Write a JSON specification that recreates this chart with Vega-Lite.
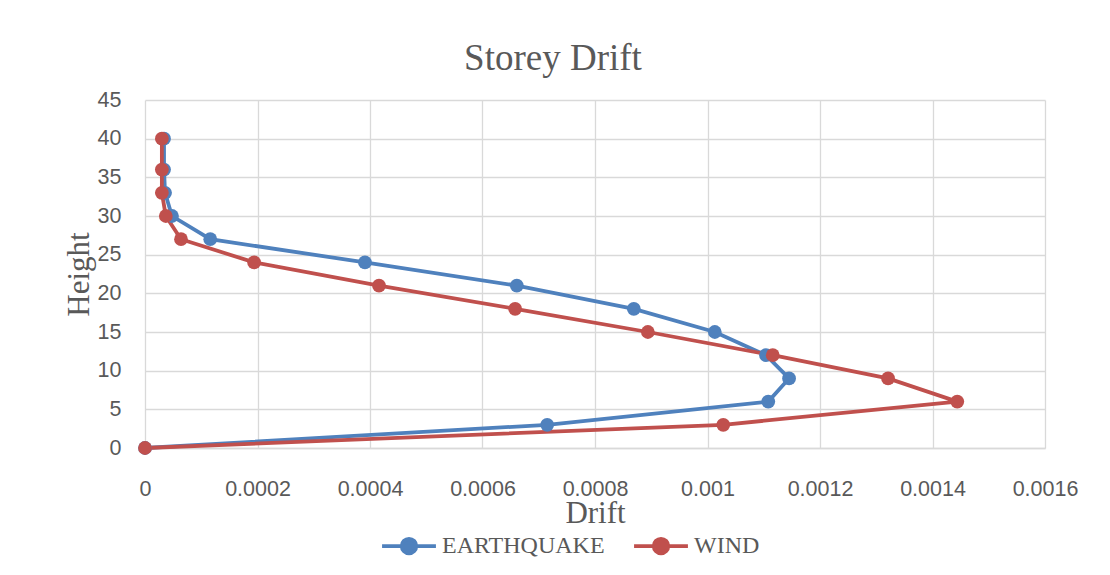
{
  "$schema": "https://vega.github.io/schema/vega-lite/v6.json",
  "width": 900,
  "height": 348,
  "autosize": {"type": "none"},
  "padding": {"left": 145, "top": 100, "right": 65, "bottom": 127},
  "background": "white",
  "title": {
    "text": "Storey Drift",
    "font": "Liberation Serif",
    "fontSize": 37,
    "fontWeight": "normal",
    "color": "#595959",
    "anchor": "middle",
    "dx": -42,
    "offset": 11
  },
  "data": {
    "values": [
      {"series": "EARTHQUAKE", "height": 0, "drift": 0},
      {"series": "EARTHQUAKE", "height": 3, "drift": 0.000715},
      {"series": "EARTHQUAKE", "height": 6, "drift": 0.001108},
      {"series": "EARTHQUAKE", "height": 9, "drift": 0.001145},
      {"series": "EARTHQUAKE", "height": 12, "drift": 0.001104},
      {"series": "EARTHQUAKE", "height": 15, "drift": 0.001013},
      {"series": "EARTHQUAKE", "height": 18, "drift": 0.000869},
      {"series": "EARTHQUAKE", "height": 21, "drift": 0.000661},
      {"series": "EARTHQUAKE", "height": 24, "drift": 0.000391},
      {"series": "EARTHQUAKE", "height": 27, "drift": 0.000116},
      {"series": "EARTHQUAKE", "height": 30, "drift": 0.000048},
      {"series": "EARTHQUAKE", "height": 33, "drift": 0.0000356},
      {"series": "EARTHQUAKE", "height": 36, "drift": 0.0000338},
      {"series": "EARTHQUAKE", "height": 40, "drift": 0.0000338},
      {"series": "WIND", "height": 0, "drift": 0},
      {"series": "WIND", "height": 3, "drift": 0.001028},
      {"series": "WIND", "height": 6, "drift": 0.001444},
      {"series": "WIND", "height": 9, "drift": 0.001321},
      {"series": "WIND", "height": 12, "drift": 0.001116},
      {"series": "WIND", "height": 15, "drift": 0.000894},
      {"series": "WIND", "height": 18, "drift": 0.000658},
      {"series": "WIND", "height": 21, "drift": 0.000416},
      {"series": "WIND", "height": 24, "drift": 0.000194},
      {"series": "WIND", "height": 27, "drift": 0.000064},
      {"series": "WIND", "height": 30, "drift": 0.000037},
      {"series": "WIND", "height": 33, "drift": 0.00003},
      {"series": "WIND", "height": 36, "drift": 0.00003},
      {"series": "WIND", "height": 40, "drift": 0.00003}
    ]
  },
  "mark": {
    "type": "line",
    "strokeWidth": 3.8,
    "point": {"filled": true, "size": 190, "opacity": 1}
  },
  "encoding": {
    "x": {
      "field": "drift",
      "type": "quantitative",
      "scale": {"domain": [0, 0.0016], "nice": false, "zero": true},
      "axis": {
        "title": "Drift",
        "values": [0, 0.0002, 0.0004, 0.0006, 0.0008, 0.001, 0.0012, 0.0014, 0.0016],
        "format": "~g",
        "labelFont": "Liberation Sans",
        "labelFontSize": 21.5,
        "labelColor": "#595959",
        "labelPadding": 30,
        "labelFlush": false,
        "ticks": false,
        "domainColor": "#d9d9d9",
        "domainWidth": 1.5,
        "gridColor": "#d9d9d9",
        "gridWidth": 1.3,
        "titleFont": "Liberation Serif",
        "titleFontSize": 31,
        "titleFontWeight": "normal",
        "titleColor": "#595959",
        "titlePadding": -1
      }
    },
    "y": {
      "field": "height",
      "type": "quantitative",
      "scale": {"domain": [0, 45], "nice": false},
      "axis": {
        "title": "Height",
        "values": [0, 5, 10, 15, 20, 25, 30, 35, 40, 45],
        "labelFont": "Liberation Sans",
        "labelFontSize": 21.5,
        "labelColor": "#595959",
        "labelPadding": 24,
        "labelFlush": false,
        "ticks": false,
        "domain": false,
        "gridColor": "#d9d9d9",
        "gridWidth": 1.3,
        "titleFont": "Liberation Serif",
        "titleFontSize": 31,
        "titleFontWeight": "normal",
        "titleColor": "#595959",
        "titlePadding": 2
      }
    },
    "color": {
      "field": "series",
      "type": "nominal",
      "scale": {"domain": ["EARTHQUAKE", "WIND"], "range": ["#4f81bd", "#c0504d"]},
      "legend": {
        "title": null,
        "orient": "none",
        "direction": "horizontal",
        "legendX": 235,
        "legendY": 417,
        "symbolType": "M-1,0L1,0M-0.27,0A0.27,0.27 0 1,1 0.27,0A0.27,0.27 0 1,1 -0.27,0Z",
        "symbolSize": 2900,
        "symbolStrokeWidth": 3.8,
        "symbolOpacity": 1,
        "labelFont": "Liberation Serif",
        "labelFontSize": 24,
        "labelLimit": 400,
        "labelColor": "#595959",
        "labelOffset": 4,
        "columnPadding": 21
      }
    },
    "order": {"field": "height", "type": "quantitative"}
  },
  "config": {
    "view": {"stroke": null}
  }
}
